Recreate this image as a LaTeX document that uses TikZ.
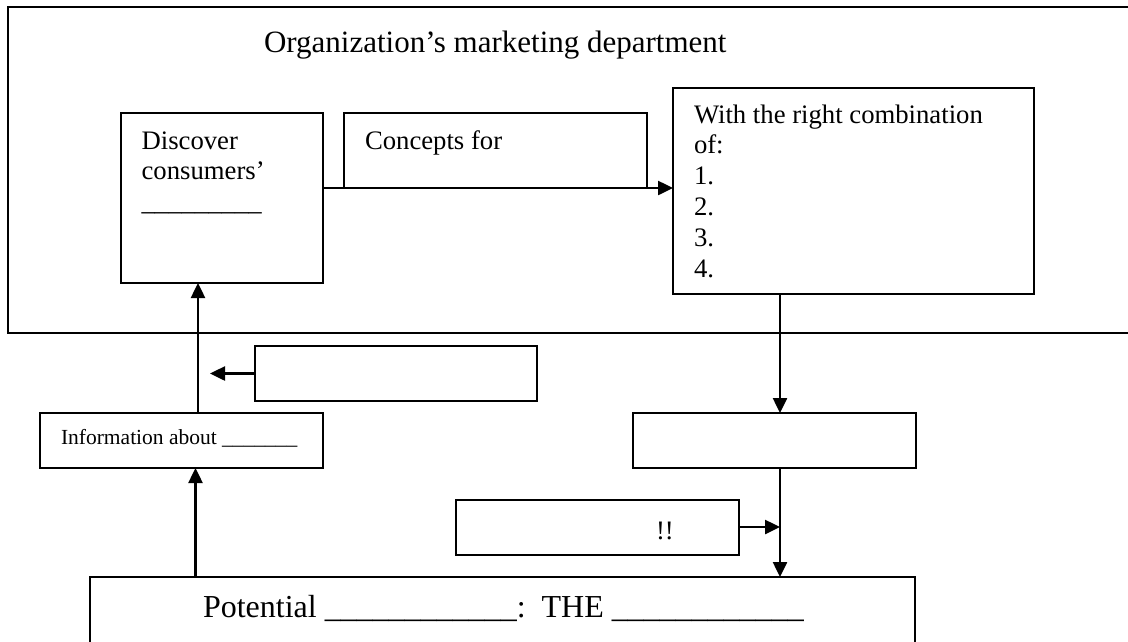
\documentclass[tikz,border=0pt]{standalone}
\usepackage{fontspec}
\setmainfont{Liberation Serif}
\usetikzlibrary{arrows.meta}
\begin{document}
\begin{tikzpicture}[x=1pt,y=-1pt,
  box/.style={draw, line width=2pt, inner sep=0pt, outer sep=0pt, anchor=north west},
  flow/.style={line width=2.5pt, -{Triangle[length=15pt,width=14pt]}},
  txt/.style={inner sep=0pt, outer sep=0pt, anchor=base west},
  body/.style={txt, font=\fontsize{26.7}{30.8}\selectfont},
  small/.style={txt, font=\fontsize{21.5}{25}\selectfont},
  heading/.style={txt, font=\fontsize{31}{37}\selectfont},
  big/.style={txt, font=\fontsize{32}{38}\selectfont}]
\clip (0,0) rectangle (1128,641);
\fill[white] (0,0) rectangle (1128,641);

% boxes
\node[box, minimum width=1132.5pt, minimum height=326pt] (dept) at (7.5,7) {};
\node[box, minimum width=202pt, minimum height=170pt] (disc) at (120.5,113) {};
\node[box, minimum width=302.6pt, minimum height=75pt] (conc) at (344.4,113) {};
\node[box, minimum width=361pt, minimum height=206pt] (comb) at (673,88) {};
\node[box, minimum width=282pt, minimum height=55pt] (src) at (254.5,346) {};
\node[box, minimum width=282.6pt, minimum height=55pt] (info) at (40,413) {};
\node[box, minimum width=283pt, minimum height=55pt] (offer) at (633,413) {};
\node[box, minimum width=283pt, minimum height=55pt] (excl) at (456,500) {};
\node[box, minimum width=825pt, minimum height=100pt] (mkt) at (90,577) {};

% texts
\node[heading] (ttl) at (264,52) {Organization’s marketing department};
\node[body] (d1) at (141.6,149) {Discover};
\node[body] (d2) at (141.6,179) {consumers’};
\node[body] (d3) at (141.6,210) {\_\_\_\_\_\_\_\_\_};
\node[body] (c1) at (365,149) {Concepts for};
\node[body] (w1) at (694,123) {With the right combination};
\node[body] (w2) at (694,153.8) {of:};
\node[body] (w3) at (694,184.6) {1.};
\node[body] (w4) at (694,215.4) {2.};
\node[body] (w5) at (694,246.2) {3.};
\node[body] (w6) at (694,277) {4.};
\node[small] (i1) at (61,444) {Information about \_\_\_\_\_\_\_};
\node[body] (x1) at (656,539) {!!};
\node[big] (p1) at (203,617) {Potential \_\_\_\_\_\_\_\_\_\_\_\_:\ \ THE \_\_\_\_\_\_\_\_\_\_\_\_};

% connectors
\coordinate (xr) at (780,0);
\coordinate (xl) at (198,0);
\coordinate (xb) at (195.5,0);
\coordinate (xs) at (210,0);
\coordinate (join) at (780,527);
\draw[flow] (disc.east |- conc.south) -- (comb.west |- conc.south);
\draw[flow] (comb.south -| xr) -- (offer.north -| xr);
\draw[flow] (offer.south -| xr) -- (mkt.north -| xr);
\draw[flow] (excl.east |- join) -- (join);
\draw[flow] (info.north -| xl) -- (disc.south -| xl);
\draw[flow] (mkt.north -| xb) -- (info.south -| xb);
\draw[flow] (src.west) -- (src.west -| xs);
\end{tikzpicture}
\end{document}
